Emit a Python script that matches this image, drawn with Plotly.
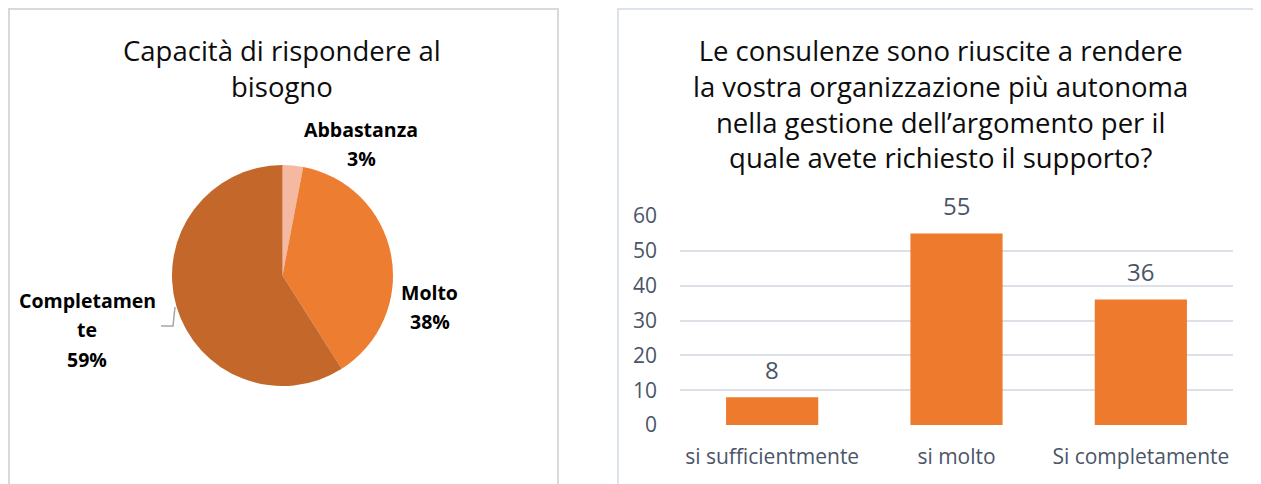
import plotly.graph_objects as go

W, H = 1261, 484
SX, SY = 8, 8  # page body margin offset

# ---- data ----
pie_title = "Capacità di rispondere al<br>bisogno"
pie_labels = ["Abbastanza", "Molto", "Completamente"]
pie_label_lines = [["Abbastanza"], ["Molto"], ["Completamen", "te"]]
pie_values = [3, 38, 59]
pie_colors = ["#F4B9A0", "#ED7D31", "#C4672A"]

bar_title = ("Le consulenze sono riuscite a rendere<br>la vostra organizzazione più autonoma"
             "<br>nella gestione dell’argomento per il<br>quale avete richiesto il supporto?")
bar_categories = ["si sufficientmente", "si molto", "Si completamente"]
bar_values = [8, 55, 36]
y_ticks = [0, 10, 20, 30, 40, 50, 60]

FONT = "Open Sans"
TICK_COLOR = "#4A5568"


def px(x):
    return (x - SX) / W


def py(y):
    return 1 - (y - SY) / H


fig = go.Figure()

fig.add_trace(go.Pie(
    labels=pie_labels, values=pie_values, sort=False, direction="clockwise",
    rotation=0, marker=dict(colors=pie_colors, line=dict(color="white", width=0)),
    textinfo="none", hoverinfo="label+percent", showlegend=False, automargin=False,
    domain=dict(x=[px(172), px(393)], y=[py(386), py(165)]),
))

fig.add_trace(go.Bar(
    x=bar_categories, y=bar_values, width=0.5,
    marker=dict(color="#EE7A2E", line=dict(width=0)),
    textposition="none", cliponaxis=False, showlegend=False,
))

fig.update_layout(
    width=W, height=H, margin=dict(l=0, r=0, t=0, b=0, pad=0, autoexpand=False),
    paper_bgcolor="white", plot_bgcolor="white",
    xaxis=dict(domain=[px(680), px(1233)], showgrid=False, showline=False, automargin=False,
               tickfont=dict(family=FONT, size=21, color=TICK_COLOR), ticks="",
               ticklabelstandoff=17),
    yaxis=dict(domain=[py(425), py(216)], range=[0, 60], tickvals=y_ticks, automargin=False,
               showgrid=True, gridcolor="#DCE1E8", gridwidth=2, zeroline=False,
               showline=False, ticks="",
               tickfont=dict(family=FONT, size=21, color=TICK_COLOR), ticklabelstandoff=22),
    bargap=0.5,
)

# bar value labels
for c, v in zip(bar_categories, bar_values):
    fig.add_annotation(x=c, y=v, xref="x", yref="y", text=str(v), showarrow=False,
                       xanchor="center", yanchor="middle", yshift=28,
                       font=dict(family=FONT, size=24, color=TICK_COLOR))

# panel borders
fig.add_shape(type="rect", xref="paper", yref="paper",
              x0=max(px(5), 1 / W), x1=px(558), y0=-0.05, y1=min(py(7), 1 - 1 / H),
              line=dict(color="#D9D9D9", width=2), layer="below")
fig.add_shape(type="rect", xref="paper", yref="paper",
              x0=px(618), x1=px(1260), y0=-0.05, y1=min(py(7), 1 - 1 / H),
              line=dict(color="#DDE3EA", width=2), layer="below")

# leader line for Completamente
fig.add_shape(type="path", xref="paper", yref="paper",
              path=f"M {px(175)} {py(307)} L {px(173)} {py(326)} L {px(161)} {py(326)}",
              line=dict(color="#A6A6A6", width=1.5))

# titles
fig.add_annotation(x=px(282), y=py(68), xref="paper", yref="paper", text=pie_title,
                   showarrow=False, font=dict(family=FONT, size=27.5, color="#0D0D0D"),
                   align="center", xanchor="center", yanchor="middle")
fig.add_annotation(x=px(940), y=py(104), xref="paper", yref="paper", text=bar_title,
                   showarrow=False, font=dict(family=FONT, size=27.5, color="#0D0D0D"),
                   align="center", xanchor="center", yanchor="middle")

# pie labels (one annotation per line, Excel-like 29px line spacing)
total = sum(pie_values)
label_pos = [(361, 129), (430, 292), (87, 300)]
for lines, v, (lx, ly) in zip(pie_label_lines, pie_values, label_pos):
    all_lines = lines + [f"{round(100 * v / total)}%"]
    for i, t in enumerate(all_lines):
        fig.add_annotation(x=px(lx), y=py(ly + 29.5 * i), xref="paper", yref="paper",
                           text=f"<b>{t}</b>", showarrow=False,
                           xanchor="center", yanchor="middle",
                           font=dict(family=FONT, size=19.5, color="#000000"))

fig.write_html("out.html")
